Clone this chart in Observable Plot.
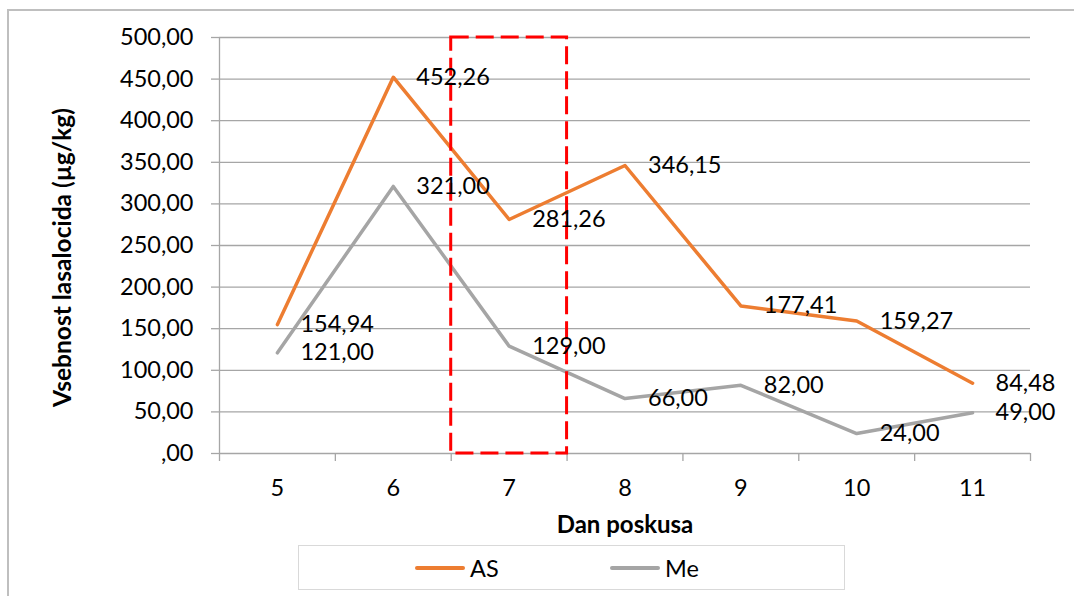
<!DOCTYPE html>
<html>
<head>
<meta charset="utf-8">
<script src="https://cdn.jsdelivr.net/npm/d3@7"></script>
<script src="https://cdn.jsdelivr.net/npm/@observablehq/plot@0.6"></script>
<style>
  html, body { margin: 0; padding: 0; background: #fff; }
  #wrap { position: relative; width: 1074px; height: 596px; overflow: hidden; font-family: Lato, "Open Sans", sans-serif; }
  #border { position: absolute; left: 7px; top: 9px; width: 1200px; height: 800px; border: 2px solid #bfbfbf; box-sizing: border-box; }
  #chart { position: absolute; left: 0; top: 0; }
  #legend { position: absolute; left: 298px; top: 545px; width: 547px; height: 45px; border: 1px solid #d9d9d9; box-sizing: border-box; background: #fff; }
  .item { position: absolute; top: 0; height: 43px; display: flex; align-items: center; font-size: 23.5px; color: #000; }
  .swatch { width: 50px; height: 4px; border-radius: 2px; margin-right: 5px; }
</style>
</head>
<body>
<div id="wrap">
  <div id="border"></div>
  <div id="chart"></div>
  <div id="legend"></div>
</div>
<script>
// ---- data ----
const days = [5, 6, 7, 8, 9, 10, 11];
const asValues = [154.94, 452.26, 281.26, 346.15, 177.41, 159.27, 84.48];
const meValues = [121.00, 321.00, 129.00, 66.00, 82.00, 24.00, 49.00];
const seriesNames = ["AS", "Me"];
const seriesColors = ["#ED7D31", "#A5A5A5"];
const yTicks = [0, 50, 100, 150, 200, 250, 300, 350, 400, 450, 500];
const highlightDay = 7;
const xTitle = "Dan poskusa";
const yTitle = "Vsebnost lasalocida (µg/kg)";

// ---- build table ----
const rows = [];
days.forEach((d, i) => {
  rows.push({day: d, value: asValues[i], series: seriesNames[0]});
  rows.push({day: d, value: meValues[i], series: seriesNames[1]});
});
const fmt = v => {
  const s = v.toFixed(2).replace(".", ",");
  return s.startsWith("0,") ? s.slice(1) : s;
};
const xDomain = [days[0] - 0.5, days[days.length - 1] + 0.5];
const xBounds = days.map(d => d - 0.5).concat([days[days.length - 1] + 0.5]);
const yMax = yTicks[yTicks.length - 1];
const gridColor = "#a6a6a6";
const fs = 23.5;

const chart = Plot.plot({
  width: 1074,
  height: 540,
  marginLeft: 219,
  marginRight: 44,
  marginTop: 37,
  marginBottom: 87,
  x: {domain: xDomain},
  y: {domain: [0, yMax]},
  color: {domain: seriesNames, range: seriesColors},
  style: {fontFamily: "Lato, 'Open Sans', sans-serif", fontSize: fs + "px", color: "#000", background: "transparent"},
  marks: [
    Plot.gridY(yTicks, {stroke: gridColor, strokeOpacity: 1, strokeWidth: 1.3}),
    Plot.ruleX([xDomain[0]], {stroke: gridColor, strokeWidth: 1.3}),
    Plot.axisY(yTicks, {tickSize: 8, tickPadding: 18, tickFormat: fmt, stroke: gridColor, strokeWidth: 1.3, label: null, fontSize: fs}),
    Plot.axisX(xBounds, {tickSize: 8, tickFormat: () => "", stroke: gridColor, strokeWidth: 1.3, label: null}),
    Plot.axisX(days, {tickSize: 0, tickPadding: 26, tickFormat: d => String(d), label: null, fontSize: fs}),
    Plot.text([xTitle], {frameAnchor: "bottom", lineAnchor: "middle", dy: 72, fontWeight: "bold", fontSize: 24}),
    Plot.text([yTitle], {frameAnchor: "left", lineAnchor: "middle", textAnchor: "middle", rotate: -90, dx: -156, dy: 12, fontWeight: "bold", fontSize: 24.5}),
    Plot.line(rows, {x: "day", y: "value", stroke: "series", strokeWidth: 3.5}),
    Plot.rect([highlightDay], {x1: d => d - 0.5, x2: d => d + 0.5, y1: 0, y2: yMax, fill: "none", stroke: "#ff0000", strokeWidth: 3, strokeDasharray: "18,7"}),
    Plot.text(rows, {x: "day", y: "value", text: d => fmt(d.value), textAnchor: "start", dx: 23, fill: "#000", fontSize: fs})
  ]
});
document.getElementById("chart").appendChild(chart);

// ---- legend ----
const legend = document.getElementById("legend");
const legendX = [116, 311];
seriesNames.forEach((name, i) => {
  const item = document.createElement("div");
  item.className = "item";
  item.style.left = legendX[i] + "px";
  const sw = document.createElement("div");
  sw.className = "swatch";
  sw.style.background = seriesColors[i];
  const label = document.createElement("span");
  label.textContent = name;
  item.appendChild(sw);
  item.appendChild(label);
  legend.appendChild(item);
});
</script>
</body>
</html>
